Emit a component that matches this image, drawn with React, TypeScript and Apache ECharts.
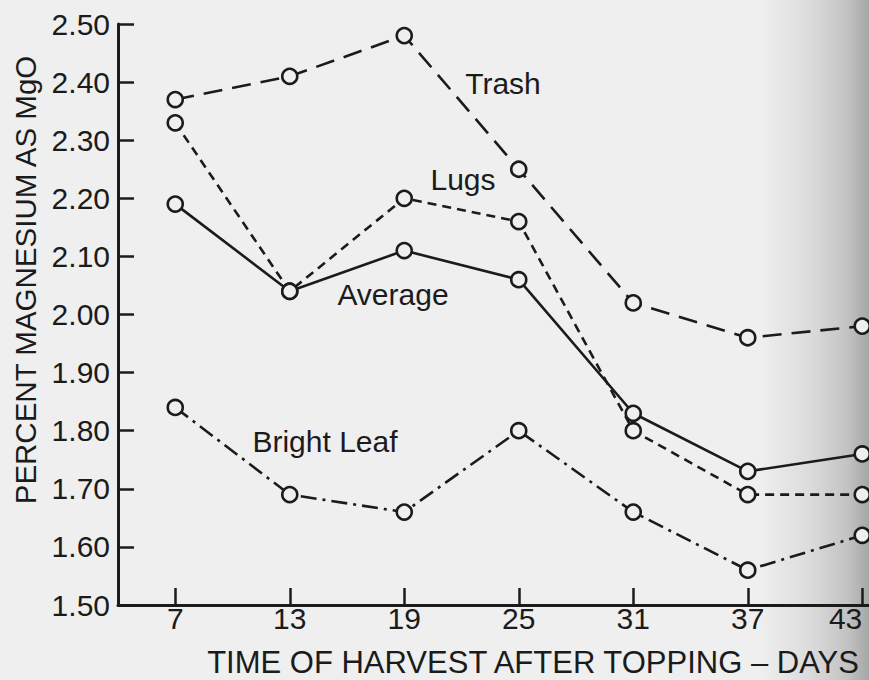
import React, { useEffect, useRef } from "react";
import * as echarts from "echarts";

// Time of harvest after topping (days)
const days = ["7", "13", "19", "25", "31", "37", "43"];
// Percent magnesium as MgO
const trash = [2.37, 2.41, 2.48, 2.25, 2.02, 1.96, 1.98];
const lugs = [2.33, 2.04, 2.2, 2.16, 1.8, 1.69, 1.69];
const average = [2.19, 2.04, 2.11, 2.06, 1.83, 1.73, 1.76];
const brightLeaf = [1.84, 1.69, 1.66, 1.8, 1.66, 1.56, 1.62];

const seriesNames = ["Trash", "Lugs", "Average", "Bright Leaf"];
const yTitle = "PERCENT MAGNESIUM AS MgO";
const xTitle = "TIME OF HARVEST AFTER TOPPING \u2013 DAYS";

const INK = "#1b1b1b";
const PAPER = "#efefef";
const FONT = "'Liberation Sans', Arial, sans-serif";

export default function App() {
  const ref = useRef<HTMLDivElement>(null);

  useEffect(() => {
    if (!ref.current) return;
    const chart = echarts.init(ref.current, undefined, { renderer: "svg" });

    const mk = (name: string, data: number[], type: any) => ({
      name,
      type: "line",
      data,
      symbol: "circle",
      symbolSize: 15,
      itemStyle: { color: PAPER, borderColor: INK, borderWidth: 2.6 },
      lineStyle: { color: INK, width: 2.6, type },
      emphasis: { disabled: true },
      silent: true,
    });

    const label = (text: string, x: number, y: number) => ({
      type: "text",
      x,
      y,
      z: 10,
      style: {
        text,
        fill: INK,
        font: `30px ${FONT}`,
        align: "center",
        verticalAlign: "middle",
      },
    });

    chart.setOption({
      animation: false,
      backgroundColor: PAPER,
      grid: {
        left: 118,
        top: 24,
        bottom: 75,
        width: 801.5,
        containLabel: false,
        outerBoundsMode: "none",
      },
      xAxis: {
        type: "category",
        data: days,
        boundaryGap: true,
        axisLine: { show: true, lineStyle: { color: INK, width: 3 } },
        axisTick: {
          show: true,
          inside: true,
          alignWithLabel: true,
          length: 17,
          lineStyle: { color: INK, width: 2.5 },
        },
        axisLabel: {
          color: INK,
          fontSize: 30,
          fontFamily: FONT,
          margin: -2,
          alignMaxLabel: "right",
        },
        splitLine: { show: false },
      },
      yAxis: {
        type: "value",
        min: 1.5,
        max: 2.5,
        interval: 0.1,
        axisLine: { show: true, lineStyle: { color: INK, width: 3 } },
        axisTick: {
          show: true,
          inside: true,
          length: 16,
          lineStyle: { color: INK, width: 2.5 },
        },
        axisLabel: {
          color: INK,
          fontSize: 30,
          fontFamily: FONT,
          margin: 8,
          formatter: (v: number) => v.toFixed(2),
        },
        splitLine: { show: false },
      },
      graphic: [
        {
          type: "rect",
          z: -10,
          silent: true,
          shape: { x: 760, y: 0, width: 109, height: 680 },
          style: {
            fill: new echarts.graphic.LinearGradient(0, 0, 1, 0, [
              { offset: 0, color: "rgba(239,239,239,1)" },
              { offset: 0.45, color: "#dcdcdc" },
              { offset: 0.8, color: "#c3c3c3" },
              { offset: 1, color: "#a6a6a6" },
            ]),
          },
        },
        {
          type: "text",
          x: 25,
          y: 280,
          rotation: Math.PI / 2,
          style: {
            text: yTitle,
            fill: INK,
            font: `29.5px ${FONT}`,
            align: "center",
            verticalAlign: "middle",
          },
        },
        {
          type: "text",
          x: 533,
          y: 662,
          style: {
            text: xTitle,
            fill: INK,
            font: `31px ${FONT}`,
            align: "center",
            verticalAlign: "middle",
          },
        },
        label(seriesNames[0], 503, 83),
        label(seriesNames[1], 463, 179),
        label(seriesNames[2], 393, 294),
        label(seriesNames[3], 325, 441),
      ],
      series: [
        mk(seriesNames[0], trash, [19, 10]),
        mk(seriesNames[1], lugs, [9, 6]),
        mk(seriesNames[2], average, "solid"),
        mk(seriesNames[3], brightLeaf, [16, 6, 3, 6]),
      ],
    });

    return () => chart.dispose();
  }, []);

  return (
    <div
      ref={ref}
      style={{ position: "fixed", left: 0, top: 0, width: 869, height: 680 }}
    />
  );
}
